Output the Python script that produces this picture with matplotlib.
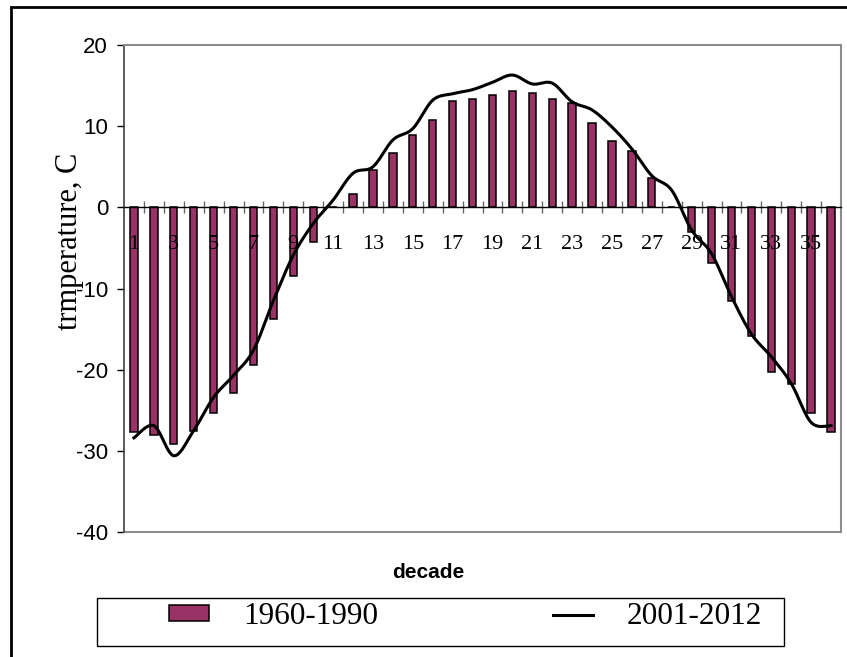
import numpy as np
import matplotlib
matplotlib.use("Agg")
import matplotlib.pyplot as plt
from matplotlib.patches import Rectangle

# decade numbers along the year
decades = list(range(1, 37))
odd_labels = [str(d) for d in decades if d % 2 == 1]

# mean decade temperature, 1960-1990 (bars)
temp_1960_1990 = [-27.7, -28.0, -29.2, -27.5, -25.3, -22.9, -19.4, -13.7, -8.5, -4.3,
                  0.0, 1.6, 4.6, 6.7, 8.9, 10.8, 13.1, 13.3, 13.9, 14.3,
                  14.1, 13.3, 12.8, 10.4, 8.2, 6.9, 3.6, 0.0, -3.1, -6.9,
                  -11.5, -15.9, -20.3, -21.8, -25.3, -27.7]

# mean decade temperature, 2001-2012 (smoothed line)
temp_2001_2012 = [-28.4, -26.9, -30.6, -27.5, -23.4, -20.7, -17.6, -11.5, -5.9, -2.0,
                  0.9, 4.2, 5.0, 8.3, 9.7, 13.2, 14.0, 14.5, 15.4, 16.3,
                  15.2, 15.3, 13.0, 12.0, 9.9, 7.2, 3.9, 2.1, -2.8, -5.7,
                  -11.0, -15.6, -18.4, -21.7, -26.5, -26.9]

y_ticks = [-40, -30, -20, -10, 0, 10, 20]


def smooth_line(x, y, n=24):
    """Catmull-Rom curve through the points, like a 'smoothed line' in Excel."""
    pts = np.column_stack([x, y]).astype(float)
    ext = np.vstack([pts[0], pts, pts[-1]])
    t = np.linspace(0, 1, n, endpoint=False)[:, None]
    out = []
    for i in range(1, len(ext) - 2):
        p0, p1, p2, p3 = ext[i - 1], ext[i], ext[i + 1], ext[i + 2]
        seg = 0.5 * (2 * p1 + (-p0 + p2) * t
                     + (2 * p0 - 5 * p1 + 4 * p2 - p3) * t ** 2
                     + (-p0 + 3 * p1 - 3 * p2 + p3) * t ** 3)
        out.append(seg)
    out.append(ext[-2][None])
    curve = np.vstack(out)
    return curve[:, 0], curve[:, 1]


W, H = 847, 657
fig = plt.figure(figsize=(W / 100, H / 100), dpi=100)
ax = fig.add_axes([124 / W, 1 - 532 / H, 717 / W, 487 / H])

# bars
bars = ax.bar(decades, temp_1960_1990, width=0.37, color='#993366',
              edgecolor='black', linewidth=1.1, label='1960-1990', zorder=1)

# smoothed line
sx, sy = smooth_line(decades, temp_2001_2012)
line, = ax.plot(sx, sy, color='black', linewidth=2.2, label='2001-2012', zorder=2)

ax.set_xlim(0.5, 36.5)
ax.set_ylim(-40, 20)

# category axis crosses at zero
ax.spines['bottom'].set_position(('data', 0))
ax.spines['bottom'].set_color('black')
ax.spines['bottom'].set_linewidth(1)
for side in ['top', 'right']:
    ax.spines[side].set_color('#8c8c8c')
    ax.spines[side].set_linewidth(1.5)
ax.spines['left'].set_color('#404040')
ax.spines['left'].set_linewidth(1.2)
# plot area border at the bottom
ax.axhline(-40, color='#8c8c8c', linewidth=1.5, clip_on=False)

ax.set_xticks([d for d in decades if d % 2 == 1])
ax.set_xticklabels(odd_labels, fontfamily='Liberation Serif', fontsize=16)
ax.set_xticks([d + 0.5 for d in decades[:-1]], minor=True)
ax.tick_params(axis='x', which='major', length=0, pad=20)
ax.tick_params(axis='x', which='minor', direction='inout', length=8.6,
               width=1, color='#666666')

ax.set_yticks(y_ticks)
ax.set_yticklabels([str(v) for v in y_ticks], fontfamily='Liberation Sans', fontsize=16)
ax.tick_params(axis='y', direction='out', length=5, width=1, pad=6.5)

# axis titles
fig.text(69 / W, 1 - 241 / H, 'trmperature, C', rotation=90, ha='center', va='center',
         fontfamily='Liberation Serif', fontsize=22)
fig.text(428 / W, 1 - 572 / H, 'decade', ha='center', va='center',
         fontfamily='Liberation Sans', fontweight='bold', fontsize=15)

# legend with its own box
fig.legend([bars, line], ['1960-1990', '2001-2012'], loc='center left',
           bbox_to_anchor=(169 / W, 1 - 617 / H),
           frameon=False, ncol=2, prop={'family': 'Liberation Serif', 'size': 22.5},
           handlelength=1.28, handleheight=0.4, handletextpad=1.08,
           columnspacing=5.6, borderpad=0, borderaxespad=0)
fig.patches.append(Rectangle((97 / W, 1 - 646 / H), 687 / W, 48 / H,
                             transform=fig.transFigure, fill=False,
                             edgecolor='black', linewidth=1))

# outer chart frame (cut at right and bottom)
fig.patches.append(Rectangle((11 / W, -0.1), 1.2, 1 - 7 / H + 0.1,
                             transform=fig.transFigure, fill=False,
                             edgecolor='black', linewidth=2))

fig.savefig('out.png', dpi=100)
